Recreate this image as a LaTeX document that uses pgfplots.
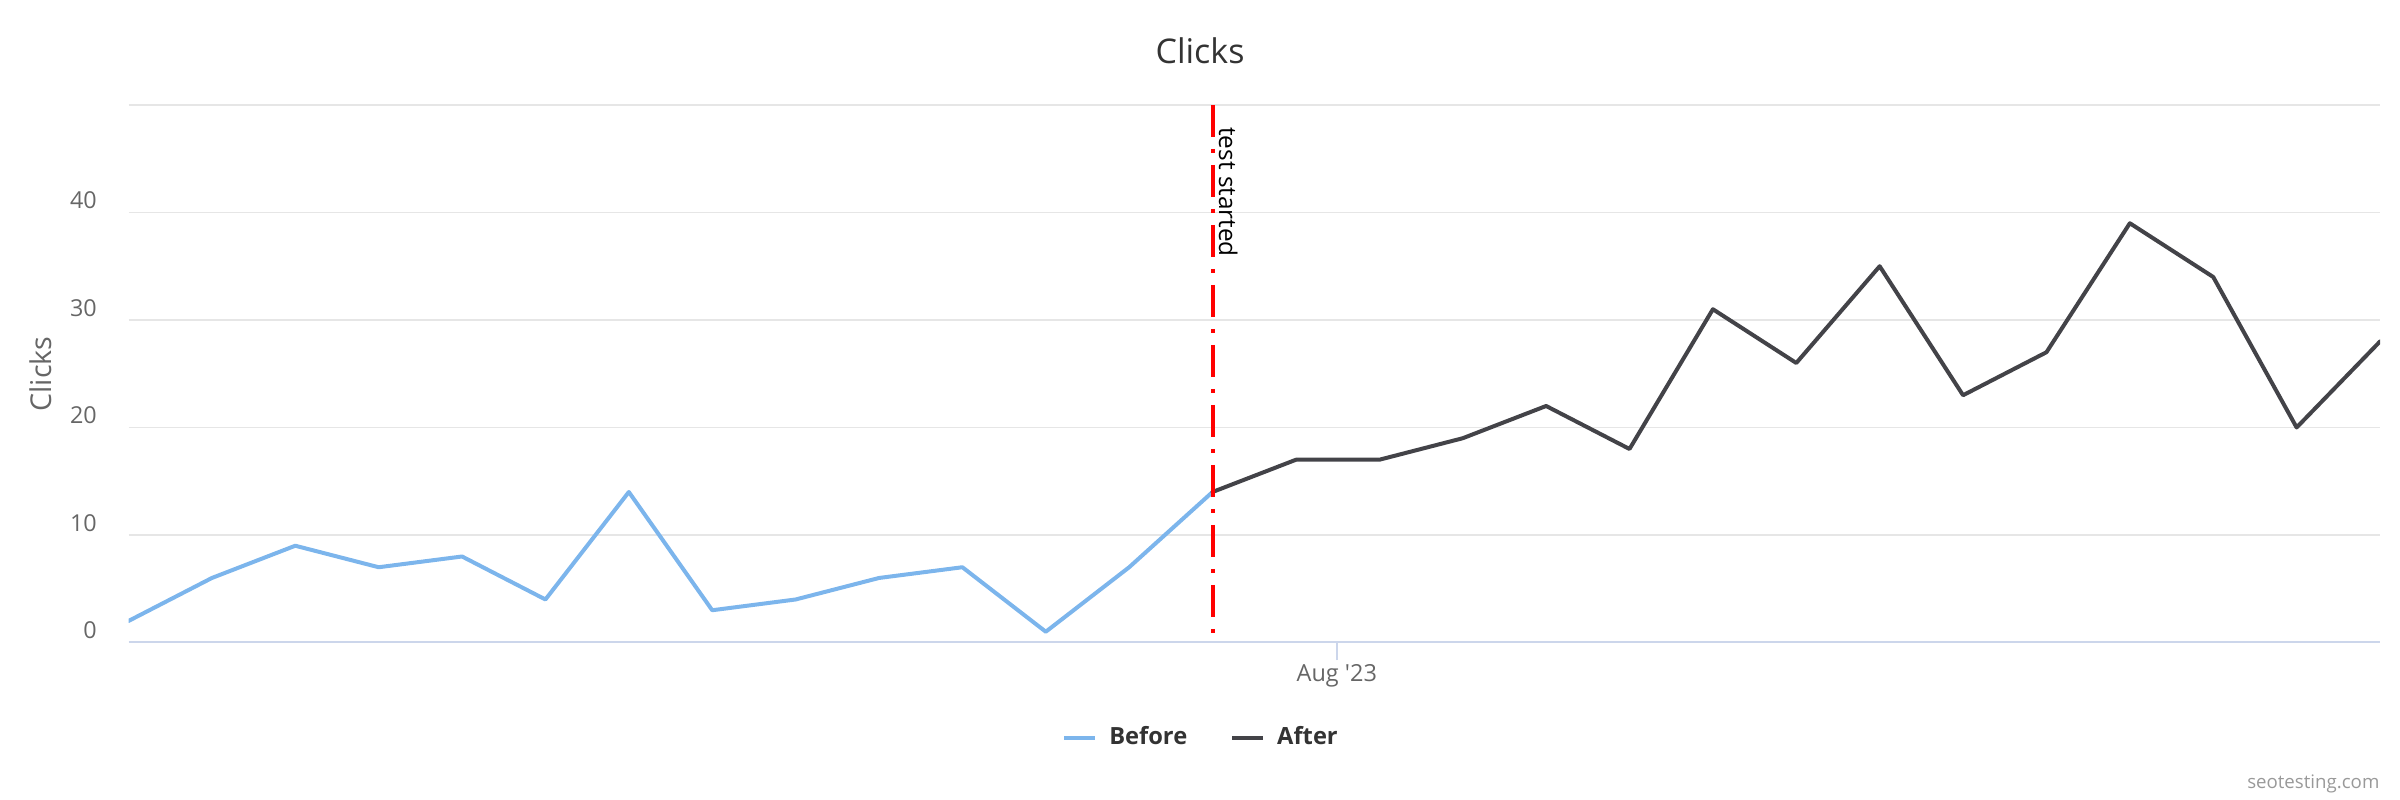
\documentclass[border=0pt]{standalone}
\usepackage{fontspec}
\setmainfont{Open Sans}
\usepackage{pgfplots}
\pgfplotsset{compat=1.18}
\definecolor{cBefore}{HTML}{7CB5EC}
\definecolor{cAfter}{HTML}{434348}
\definecolor{cGrid}{HTML}{E6E6E6}
\definecolor{cAxis}{HTML}{CCD6EB}
\definecolor{cTick}{HTML}{666666}
\definecolor{cTitle}{HTML}{333333}
\definecolor{cCredit}{HTML}{999999}
\definecolor{cRed}{HTML}{FF0000}
\begin{document}
\begin{tikzpicture}
\path[use as bounding box] (0,0) rectangle (720pt,240pt);
\begin{axis}[
  at={(38.55pt,47.25pt)}, anchor=south west,
  scale only axis, width=675.45pt, height=161.25pt,
  xmin=0, xmax=27, ymin=0, ymax=50,
  axis x line*=bottom, axis y line*=left,
  x axis line style={draw=cAxis, line width=0.6pt, -},
  y axis line style={draw=none, -},
  ytick={0,10,20,30,40,50},
  yticklabels={0,10,20,30,40,{}},
  xtick={14.49}, xticklabels={Aug \textquotesingle 23},
  ymajorgrids, grid style={draw=cGrid, line width=0.5pt},
  tick align=outside,
  major tick length=5.4pt,
  xtick style={draw=cAxis, line width=0.6pt},
  ytick style={draw=none},
  /pgf/number format/assume math mode=true,
  yticklabel style={anchor=base east, inner sep=0pt, xshift=-3.9pt, yshift=1.05pt, font=\fontsize{7}{8}\selectfont, text=cTick},
  xticklabel style={anchor=base, inner sep=0pt, yshift=-6.2pt, font=\fontsize{7.05}{8}\selectfont, text=cTick},
  legend columns=2,
  legend image code/.code={\draw[#1, line cap=butt] (0pt,0pt) -- (9.3pt,0pt);},
  legend style={at={(axis description cs:0.4759,-0.1785)}, anchor=center, draw=none, fill=none,
    inner sep=0pt, outer sep=0pt, font=\fontsize{7.1}{8}\selectfont\bfseries, text=cTitle,
    nodes={inner sep=0pt},
    /tikz/every odd column/.append style={column sep=3.6pt},
    /tikz/every even column/.append style={column sep=12.9pt}},
]
\addplot[cBefore, line width=1.2pt, line join=round, line cap=round] coordinates {
(0,2)(1,6)(2,9)(3,7)(4,8)(5,4)(6,14)(7,3)(8,4)(9,6)(10,7)(11,1)(12,7)(13,14)};
\addlegendentry{Before}
\addplot[cAfter, line width=1.2pt, line join=round, line cap=round] coordinates {
(13,14)(14,17)(15,17)(16,19)(17,22)(18,18)(19,31)(20,26)(21,35)(22,23)(23,27)(24,39)(25,34)(26,20)(27,28)};
\addlegendentry{After}
\addplot[cRed, line width=1.2pt, line cap=butt, dash pattern=on 9.6pt off 3.6pt on 1.2pt off 3.6pt, forget plot] coordinates {(13,50) (13,0)};
\coordinate (tl) at (axis cs:13,50);
\end{axis}
\node[rotate=-90, anchor=base west, inner sep=0pt, font=\fontsize{7.3}{8}\selectfont, text=black] at ([xshift=1.95pt,yshift=-6.5pt]tl) {test started};
\node[anchor=base, inner sep=0pt, font=\fontsize{10.2}{12}\selectfont, text=cTitle] at (360pt,220.95pt) {Clicks};
\node[rotate=90, anchor=base, inner sep=0pt, font=\fontsize{8.6}{10}\selectfont, text=cTick] at (15.5pt,127.8pt) {Clicks};
\node[anchor=base east, inner sep=0pt, font=\fontsize{5.6}{7}\selectfont, text=cCredit] at (714pt,3.3pt) {seotesting.com};
\end{tikzpicture}
\end{document}
